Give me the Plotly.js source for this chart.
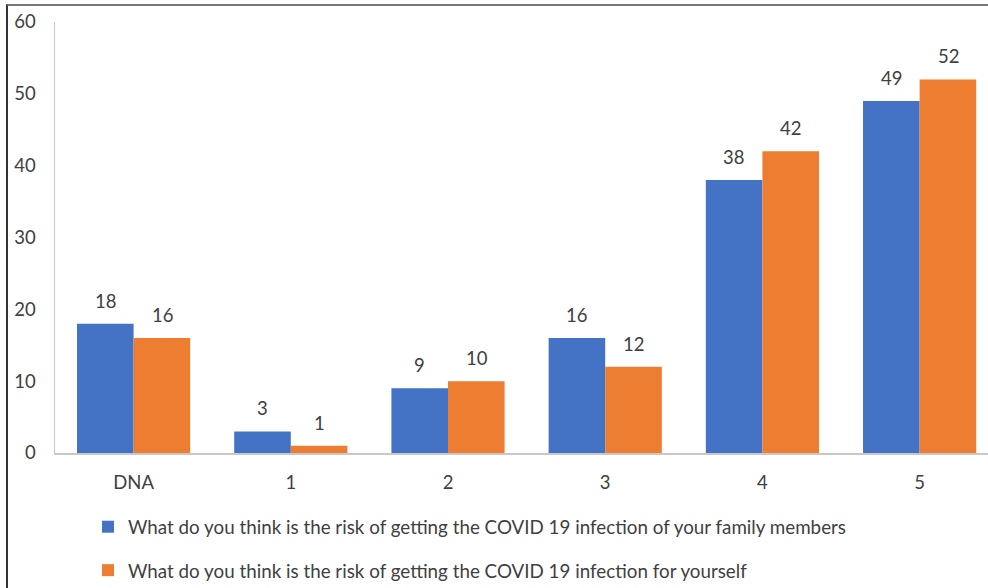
<!DOCTYPE html>
<html>
<head>
<meta charset="utf-8">
<script src="https://cdn.plot.ly/plotly-3.0.1.min.js"></script>
<style>
  html, body { margin: 0; padding: 0; background: #fff; }
  #wrap { position: relative; width: 988px; height: 588px; overflow: hidden; }
  #chart { position: absolute; left: 0; top: 0; width: 988px; height: 588px; }
  #frame { position: absolute; left: 6px; top: 4px; width: 990px; height: 600px;
           border-left: 2px solid #333; border-top: 2px solid #777; pointer-events: none; }
</style>
</head>
<body>
<div id="wrap">
  <div id="chart"></div>
  <div id="frame"></div>
</div>
<script>
const categories = ["DNA", "1", "2", "3", "4", "5"];
const familyValues = [18, 3, 9, 16, 38, 49];
const selfValues = [16, 1, 10, 12, 42, 52];
const seriesNames = [
  "What do you think is the risk of getting the COVID 19 infection of your family members",
  "What do you think is the risk of getting the COVID 19 infection for yourself"
];
const yTicks = [0, 10, 20, 30, 40, 50, 60];

const fontFam = "Lato, 'Open Sans', sans-serif";
const textColor = "#404040";

const traces = [
  { type: "bar", name: seriesNames[0], x: categories, y: familyValues,
    marker: { color: "#4472C4" }, legendgroup: "a", hoverinfo: "none" },
  { type: "bar", name: seriesNames[1], x: categories, y: selfValues,
    marker: { color: "#ED7D31" }, legendgroup: "b", hoverinfo: "none" }
];

const annotations = [];
[familyValues, selfValues].forEach((vals, si) => {
  vals.forEach((v, i) => {
    annotations.push({
      x: categories[i], y: v, xref: "x", yref: "y",
      text: String(v), showarrow: false,
      xshift: si === 0 ? -28.5 : 28.5, yshift: 10, yanchor: "bottom",
      font: { family: fontFam, size: 18.5, color: textColor }
    });
  });
});

const layout = {
  width: 988, height: 588,
  margin: { l: 55, r: 0, t: 22, b: 135, pad: 0, autoexpand: false },
  paper_bgcolor: "#ffffff", plot_bgcolor: "#ffffff",
  barmode: "group", bargap: 0.28, bargroupgap: 0,
  font: { family: fontFam, size: 18, color: textColor },
  xaxis: {
    type: "category", range: [-0.5, 5.435],
    showline: true, linecolor: "#c8c8c8", linewidth: 1.5,
    showgrid: false, zeroline: false, ticks: "", tickangle: 0,
    ticklabelstandoff: 12, automargin: false,
    tickfont: { family: fontFam, size: 18.5, color: textColor },
    fixedrange: true
  },
  yaxis: {
    range: [0, 60], tickvals: yTicks, ticktext: yTicks.map(String),
    showline: true, linecolor: "#c8c8c8", linewidth: 1.5,
    showgrid: false, zeroline: false, ticks: "",
    ticklabelstandoff: 14, automargin: false,
    tickfont: { family: fontFam, size: 18.5, color: textColor },
    fixedrange: true
  },
  showlegend: true,
  legend: {
    orientation: "v",
    x: (88 - 55) / 933, xanchor: "left", y: (453 - 508) / 431, yanchor: "top",
    font: { family: fontFam, size: 18.8, color: textColor },
    tracegroupgap: 16, itemwidth: 30, bgcolor: "rgba(0,0,0,0)"
  },
  annotations: annotations
};

Plotly.newPlot("chart", traces, layout, { displayModeBar: false, staticPlot: true });
</script>
</body>
</html>
